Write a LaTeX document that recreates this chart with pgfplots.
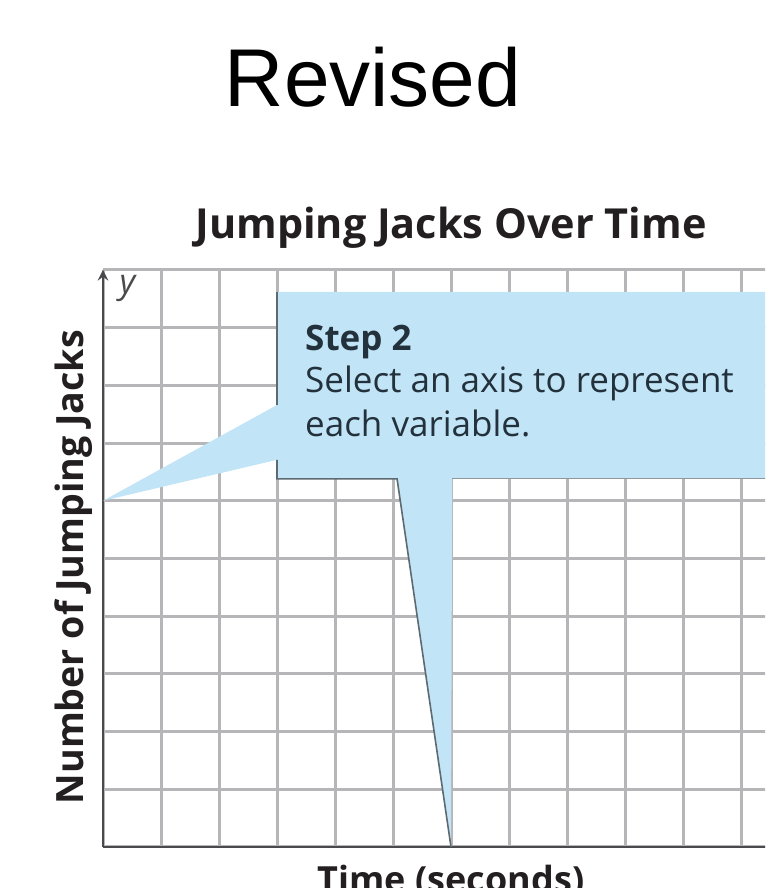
\documentclass[border=0pt]{standalone}
\usepackage{pgfplots}
\pgfplotsset{compat=1.18}
\usepackage{fontspec}
\setmainfont{Open Sans}
\newfontfamily\arialfont{Liberation Sans}
\definecolor{gridgray}{HTML}{B6B6B8}
\definecolor{axisgray}{HTML}{4A4A4C}
\definecolor{callblue}{HTML}{C1E4F6}
\definecolor{calledge}{HTML}{5E6A72}
\definecolor{titleink}{HTML}{231F20}
\definecolor{callink}{HTML}{22313B}
\begin{document}
\begin{tikzpicture}
\path[use as bounding box] (0pt,0pt) rectangle (382.5pt,444pt);
\clip (0pt,0pt) rectangle (382.5pt,444pt);
\coordinate (AX) at (51.5pt,20.5pt);
\node[anchor=base, font=\arialfont\fontsize{41}{48}\selectfont, text=black] at (186.5pt,390.5pt) {Revised};
\begin{axis}[
  at={(AX)}, anchor=south west,
  scale only axis, width=348pt, height=288.5pt,
  xmin=0, xmax=12, ymin=0, ymax=10,
  xtick={0,1,...,12}, ytick={0,1,...,10},
  xticklabels={}, yticklabels={},
  major tick length=0pt,
  grid=major,
  major grid style={gridgray, line width=1.5pt},
  axis x line=bottom, axis y line=left,
  x axis line style={-, axisgray, line width=1.3pt},
  y axis line style={-stealth, axisgray, line width=1.3pt},
  title={\textbf{Jumping Jacks Over Time}},
  title style={at={(axis description cs:0.5,1.033)}, anchor=base, inner sep=0pt, font=\fontsize{20.7}{24}\selectfont, text=titleink},
  xlabel={\textbf{Time (seconds)}},
  xlabel style={at={(axis description cs:0.5,-0.079)}, anchor=base, inner sep=0pt, font=\fontsize{18}{21}\selectfont, text=titleink},
  ylabel={\textbf{Number of Jumping Jacks}},
  ylabel style={at={(axis description cs:-0.0275,0.485)}, anchor=base, inner sep=0pt, rotate=0, font=\fontsize{18.8}{22}\selectfont, text=titleink},
  clip=false,
]
% callout shape
\addplot[fill=callblue, draw=none] coordinates {
  (3,9.62) (12.2,9.62) (12.2,6.38) (6.02,6.38) (6,0) (5.07,6.38)
  (3,6.38) (3,6.71) (0,6) (3,7.66) (3,9.62)} --cycle;
% shadow edges
\addplot[calledge, line width=0.8pt] coordinates {(3,9.62) (3,7.66)};
\addplot[calledge, line width=0.8pt] coordinates {(3,6.71) (3,6.38) (5.07,6.38) (6,0)};
\addplot[calledge!70, line width=0.6pt] coordinates {(6.02,6.38) (12.2,6.38)};
\node[anchor=base west, inner sep=0pt, font=\bfseries\fontsize{17.5}{20}\selectfont, text=callink] at (axis cs:3.48,8.61) {Step 2};
\node[anchor=base west, inner sep=0pt, font=\fontsize{17.5}{20}\selectfont, text=callink] at (axis cs:3.48,7.87) {Select an axis to represent};
\node[anchor=base west, inner sep=0pt, font=\fontsize{17.5}{20}\selectfont, text=callink] at (axis cs:3.48,7.11) {each variable.};
\node[font=\itshape\fontsize{17}{20}\selectfont, text=axisgray] at (axis cs:0.42,9.68) {y};
\end{axis}
\end{tikzpicture}
\end{document}
